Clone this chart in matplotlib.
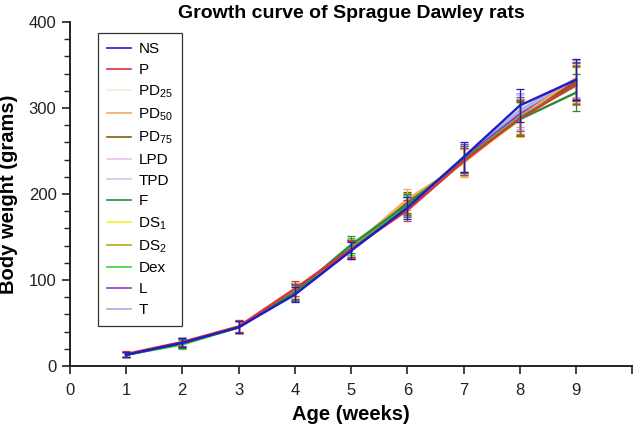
import numpy as np
import matplotlib
matplotlib.use("Agg")
import matplotlib.pyplot as plt
from matplotlib.ticker import MultipleLocator

plt.rcParams['font.family'] = ['Liberation Sans', 'DejaVu Sans']
plt.rcParams['mathtext.default'] = 'regular'

# age in weeks
weeks = [1, 2, 3, 4, 5, 6, 7, 8, 9]

# group labels and colours (legend order)
groups = ['NS', 'P', 'PD$_{25}$', 'PD$_{50}$', 'PD$_{75}$', 'LPD', 'TPD',
          'F', 'DS$_1$', 'DS$_2$', 'Dex', 'L', 'T']
colors = ['#1c1cc8', '#e0303c', '#f2eed8', '#f0a868', '#8a5a10', '#f4bce8',
          '#c8c8f0', '#2e8a3a', '#f4f030', '#b4a818', '#36d236', '#9638c8',
          '#a8b0e4']

# mean body weight (g) per group
NS   = [13, 27, 45, 83, 134, 184, 243, 303, 333]
P    = [14, 28, 46, 90, 136, 181, 238, 288, 327]
PD25 = [13, 27, 45, 87, 137, 188, 240, 292, 332]
PD50 = [13, 27, 46, 88, 138, 194, 236, 290, 335]
PD75 = [13, 27, 45, 87, 137, 190, 238, 289, 330]
LPD  = [13, 27, 45, 86, 136, 187, 242, 295, 330]
TPD  = [13, 27, 45, 85, 135, 186, 241, 296, 332]
F    = [13, 26, 45, 86, 141, 188, 240, 287, 318]
DS1  = [13, 27, 45, 87, 137, 190, 237, 286, 330]
DS2  = [13, 27, 45, 86, 137, 189, 238, 289, 328]
Dex  = [13, 25, 45, 86, 139, 187, 240, 290, 326]
L    = [13, 27, 45, 85, 135, 185, 242, 293, 332]
T    = [13, 27, 45, 84, 135, 185, 242, 298, 334]

# standard deviations
sd_NS    = [3, 5, 7, 9, 10, 13, 17, 19, 24]
sd_other = [3, 5, 7, 9, 10, 12, 16, 20, 22]

means = [NS, P, PD25, PD50, PD75, LPD, TPD, F, DS1, DS2, Dex, L, T]

fig = plt.figure(figsize=(6.34, 4.26), dpi=100)
ax = fig.add_axes([0.110, 0.1408, 0.8876, 0.8075])

# draw the pale groups first, then P and NS on top
order = [2, 5, 6, 8, 9, 12, 11, 4, 3, 10, 7, 1, 0]
handles = {}
for i in order:
    sd = sd_NS if i == 0 else sd_other
    ax.errorbar(weeks, means[i], yerr=sd, color=colors[i], lw=1.7,
                elinewidth=0.9, capsize=3, capthick=0.9, zorder=2 + order.index(i))
    handles[i], = ax.plot([], [], color=colors[i], lw=1.2)

ax.set_xlim(0, 10)
ax.set_ylim(0, 400)
ax.set_xticks(range(0, 11))
ax.set_xticklabels([str(k) for k in range(0, 10)] + [''])
ax.yaxis.set_major_locator(MultipleLocator(100))
ax.yaxis.set_minor_locator(MultipleLocator(20))

for s in ['top', 'right']:
    ax.spines[s].set_visible(False)
for s in ['left', 'bottom']:
    ax.spines[s].set_linewidth(1.4)
    ax.spines[s].set_color('#222222')
ax.tick_params(which='major', direction='out', length=6, width=1.2, labelsize=12,
               colors='#222222')
ax.tick_params(which='minor', direction='out', length=4, width=1.0, colors='#222222')
ax.tick_params(axis='x', pad=6)

ax.set_xlabel('Age (weeks)', fontsize=14.5, fontweight='bold', labelpad=5)
ax.set_ylabel('Body weight (grams)', fontsize=14.5, fontweight='bold', labelpad=8)
ax.set_title('Growth curve of Sprague Dawley rats', fontsize=14,
             fontweight='bold', pad=3)

leg = ax.legend([handles[i] for i in range(len(groups))], groups,
                loc='upper left', bbox_to_anchor=(0.05, 0.968), borderaxespad=0,
                fontsize=11, frameon=True, fancybox=False, handlelength=1.55,
                handletextpad=0.5, labelspacing=0.44, borderpad=0.6)
leg.get_frame().set_edgecolor('black')
leg.get_frame().set_linewidth(0.9)

fig.savefig('out.png', dpi=100)
